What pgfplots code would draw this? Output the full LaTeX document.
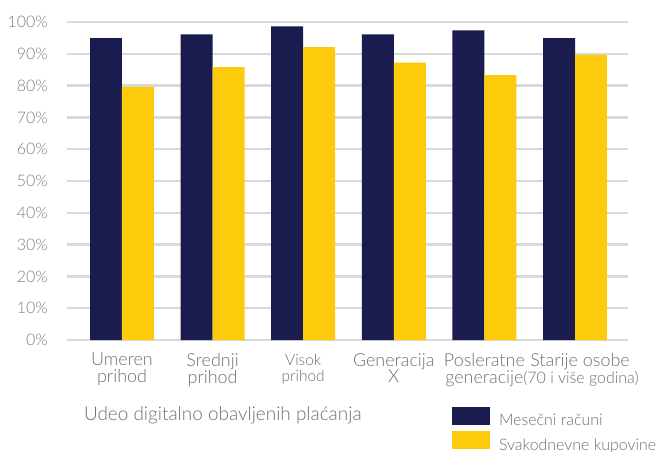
\documentclass[border=0pt]{standalone}
\usepackage{fontspec}
\setmainfont{Lato}[UprightFont=* Light]
\usepackage{pgfplots}
\pgfplotsset{compat=1.18}
\definecolor{navy}{HTML}{1A1B4F}
\definecolor{gold}{HTML}{FDCB0B}
\definecolor{gridgray}{HTML}{D9D9D9}
\definecolor{txtgray}{HTML}{6E6E6E}
\definecolor{ytgray}{HTML}{7F7F7F}
\begin{document}
\begin{tikzpicture}
\begin{axis}[
  width=561bp, height=318bp, scale only axis,
  xmin=-0.607, xmax=5.585, ymin=0, ymax=100,
  clip=false,
  ybar=0pt, bar width=0.353,
  axis line style={draw=none},
  major tick length=0pt,
  ymajorgrids, major grid style={gridgray, line width=2.5bp},
  ytick={0,10,...,100},
  yticklabels={0\%,10\%,20\%,30\%,40\%,50\%,60\%,70\%,80\%,90\%,100\%},
  xtick={0,1,2,3,4,5},
  xticklabels={{Umeren\\[-1bp]prihod},{Srednji\\[-1bp]prihod},{\vphantom{U}{\fontsize{15.5}{18}\selectfont Visok}\\[-2.5bp]{\fontsize{15.5}{18}\selectfont prihod}},{Generacija\\[-1bp]X},{Posleratne\\[-1bp]generacije},{\hspace*{10bp}Starije osobe\\[-1bp]\hspace*{12bp}{\fontsize{16}{18}\selectfont(70 i više godina)}}},
  yticklabel style={font=\fontsize{16}{18}\selectfont, text=ytgray, anchor=east, inner sep=0pt, xshift=-19bp},
  xticklabel style={font=\fontsize{18}{18}\selectfont, text=txtgray, anchor=north, align=center, inner sep=0pt, yshift=-13bp},
  legend style={at={(0.6863,-0.2107)}, anchor=north west, draw=none, fill=none,
    inner sep=0pt, outer sep=0pt, row sep=3.7bp, column sep=9bp,
    font=\fontsize{16}{18}\selectfont, text=txtgray,
    nodes={inner sep=0pt}},
  legend cell align=left,
  legend image code/.code={\fill[#1] (0bp,-4bp) rectangle (38bp,14bp);},
]
\addplot[fill=navy, draw=none] coordinates {(0,94.9)(1,96.1)(2,98.6)(3,96.1)(4,97.4)(5,94.9)};
\addplot[fill=gold, draw=none] coordinates {(0,79.6)(1,85.8)(2,92.1)(3,87.2)(4,83.3)(5,89.7)};
\legend{Mesečni računi, Svakodnevne kupovine}
\node[anchor=west, inner sep=0pt, text=txtgray, font=\fontsize{19}{20}\selectfont] at ([xshift=17bp]rel axis cs:0,-0.236) {Udeo digitalno obavljenih plaćanja};
\end{axis}
\pgfresetboundingbox
\useasboundingbox ([xshift=-67bp,yshift=-112bp]current axis.south west) rectangle ([xshift=599bp,yshift=340bp]current axis.south west);
\end{tikzpicture}
\end{document}
